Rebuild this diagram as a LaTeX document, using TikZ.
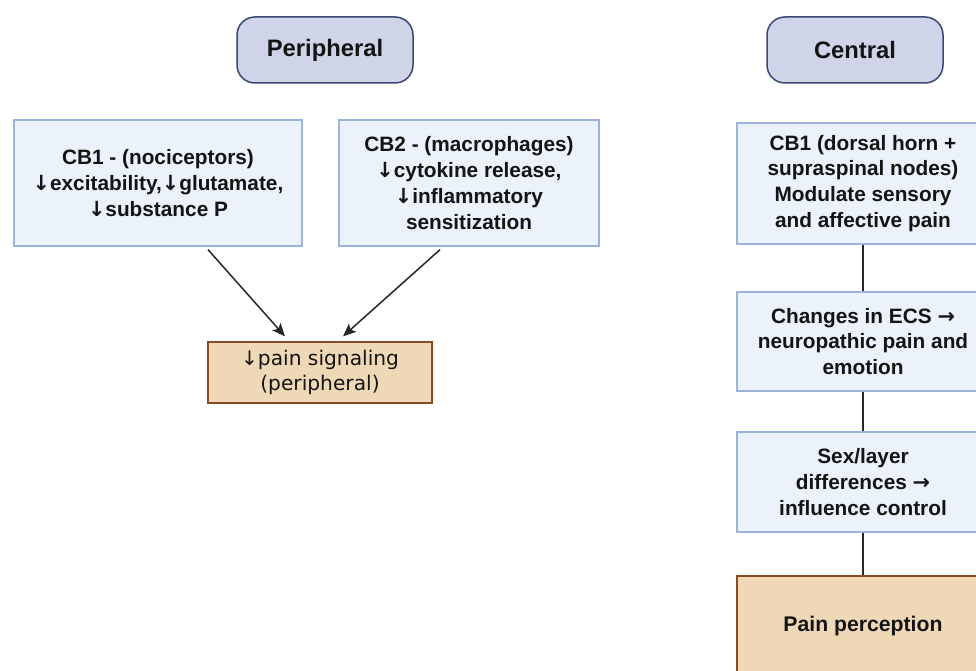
\documentclass[tikz,border=0pt]{standalone}
\usepackage{fontspec}
\setmainfont{Liberation Sans}
\newfontfamily\djv{DejaVu Sans}
\newcommand{\dn}{{\djv\bfseries ↓}}
\newcommand{\rt}{{\djv\bfseries →}}
\usetikzlibrary{arrows.meta}
\definecolor{pillfill}{HTML}{CFD4E9}
\definecolor{pilldraw}{HTML}{3A4775}
\definecolor{boxfill}{HTML}{EBF2FC}
\definecolor{boxdraw}{HTML}{9CB2DF}
\definecolor{tanfill}{HTML}{EFD8B6}
\definecolor{tandraw}{HTML}{8A4B22}
\definecolor{linec}{HTML}{262626}
\begin{document}
\begin{tikzpicture}[x=1pt,y=-1pt,
  pill/.style={draw=pilldraw,fill=pillfill,line width=1.5pt,rounded corners=18pt,
    minimum width=176pt,minimum height=66pt,inner sep=0pt,
    font=\fontsize{23.8}{28}\selectfont\bfseries,text=black!92},
  bluebox/.style={draw=boxdraw,fill=boxfill,line width=1.3pt,inner sep=0pt,
    align=center,font=\fontsize{20.8}{25.8}\selectfont\bfseries,text=black!92},
  tanbox/.style={draw=tandraw,fill=tanfill,line width=1.3pt,inner sep=0pt,
    align=center,text=black!92},
  arr/.style={draw=linec,line width=1.5pt,-{Stealth[length=13pt,width=11pt,inset=3pt]}},
  link/.style={draw=linec,line width=1.4pt}]
\useasboundingbox (0,0) rectangle (976,671);
\begin{scope}
\clip (0,0) rectangle (976,671);
\node[pill] (per) at (325,50) {Peripheral};
\node[pill] (cen) at (855,50) {Central};
\node[bluebox,minimum width=288pt,minimum height=126pt] (cb1) at (158,183)
  {CB1 - (nociceptors)\\\dn excitability,\dn glutamate,\\\dn substance P};
\node[bluebox,minimum width=260pt,minimum height=126pt] (cb2) at (469,183)
  {CB2 - (macrophages)\\\dn cytokine release,\\\dn inflammatory\\sensitization};
\node[tanbox,minimum width=224pt,minimum height=61pt,
  font=\djv\fontsize{20.2}{25}\selectfont] (sig) at (320,372.5)
  {↓pain signaling\\(peripheral)};
\node[bluebox,minimum width=252pt,minimum height=121pt] (c1) at (863,183.5)
  {CB1 (dorsal horn +\\supraspinal nodes)\\Modulate sensory\\and affective pain};
\node[bluebox,minimum width=252pt,minimum height=99pt] (c2) at (863,341.5)
  {Changes in ECS \rt\\neuropathic pain and\\emotion};
\node[bluebox,minimum width=252pt,minimum height=100pt] (c3) at (863,482)
  {Sex/layer\\differences \rt\\influence control};
\node[tanbox,minimum width=252pt,minimum height=100pt,
  font=\fontsize{21.2}{26}\selectfont\bfseries] (c4) at (863,626)
  {Pain perception};
\draw[arr] ([xshift=50pt,yshift=-3pt]cb1.south) -- ([xshift=-35pt,yshift=5pt]sig.north);
\draw[arr] ([xshift=-29pt,yshift=-3pt]cb2.south) -- ([xshift=23pt,yshift=5pt]sig.north);
\draw[link] (c1.south) -- (c2.north);
\draw[link] (c2.south) -- (c3.north);
\draw[link] (c3.south) -- (c4.north);
\end{scope}
\end{tikzpicture}
\end{document}
